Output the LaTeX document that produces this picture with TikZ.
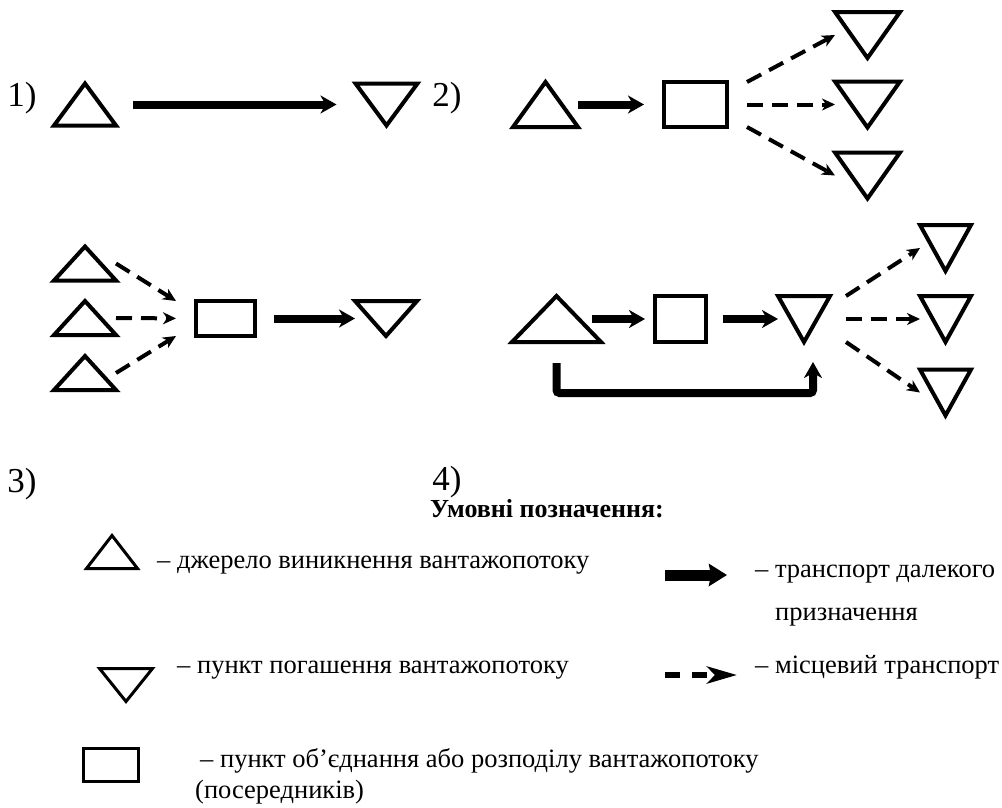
\documentclass[tikz,border=0pt]{standalone}
\usepackage{fontspec}
\setmainfont{Liberation Serif}
\usetikzlibrary{arrows.meta}

\begin{document}
\begin{tikzpicture}[x=1pt,y=-1pt,
  tri/.style={inner sep=0pt,outer sep=0pt},
  shp/.style={line width=4pt},
  box/.style={draw,line width=3.5pt,inner sep=0pt,outer sep=0pt},
  far/.style={line width=8pt,-{Stealth[length=16pt,width=18pt,inset=5pt]}},
  loc/.style={line width=4pt,dash pattern=on 16pt off 9pt,-{Stealth[length=13pt,width=12pt,inset=4pt]}},
  num/.style={font=\fontsize{35}{40}\selectfont,inner sep=0pt},
  leg/.style={font=\fontsize{26.5}{31}\selectfont,inner sep=0pt,anchor=base west}]

\useasboundingbox (0,0) rectangle (1002,807);

% 1)
\node[num] (n1) at (22,98) {1)};
\node[tri,minimum width=62pt,minimum height=42pt] (s1) at (85,104.5) {};
\node[tri,minimum width=62pt,minimum height=42pt] (d1) at (386.5,104.5) {};
\node[num] (n2) at (447,98) {2)};
\draw[far,shorten <=17pt,shorten >=19pt] (s1.east) -- (d1.west);

% 2)
\node[tri,minimum width=65pt,minimum height=45pt] (s2) at (545.5,104.5) {};
\node[box,minimum width=63pt,minimum height=45pt] (m2) at (695.5,104.5) {};
\node[tri,minimum width=65pt,minimum height=46pt] (d2a) at (867.5,35) {};
\node[tri,minimum width=65pt,minimum height=46pt] (d2b) at (867.5,104.5) {};
\node[tri,minimum width=65pt,minimum height=46pt] (d2c) at (867.5,175.5) {};
\draw[far,shorten >=20pt] (s2.east) -- (m2.west);
\draw[loc] ([xshift=20pt]m2.north east) -- (d2a.west);
\draw[loc,shorten <=20pt] (m2.east) -- (d2b.west);
\draw[loc] ([xshift=20pt]m2.south east) -- (d2c.west);

% 3)
\node[tri,minimum width=62pt,minimum height=34pt] (s3a) at (85,263.5) {};
\node[tri,minimum width=62pt,minimum height=34pt] (s3b) at (85,318) {};
\node[tri,minimum width=62pt,minimum height=34pt] (s3c) at (85,373) {};
\node[box,minimum width=59pt,minimum height=35pt] (m3) at (225.5,318.5) {};
\node[tri,minimum width=62pt,minimum height=35pt] (d3) at (386,318.5) {};
\draw[loc] (s3a.east) -- ([xshift=-20pt]m3.north west);
\draw[loc,shorten >=20pt] (s3b.east) -- (m3.west);
\draw[loc] (s3c.east) -- ([xshift=-20pt]m3.south west);
\draw[far,shorten <=19pt] (m3.east) -- (d3.west);

% 4)
\node[tri,minimum width=89pt,minimum height=46pt] (s4) at (556.5,319) {};
\node[box,minimum width=51pt,minimum height=46pt] (m4) at (680.5,319) {};
\node[tri,minimum width=52pt,minimum height=46pt] (d4) at (804,319) {};
\node[tri,minimum width=51pt,minimum height=46pt] (d4a) at (945.5,248) {};
\node[tri,minimum width=51pt,minimum height=46pt] (d4b) at (945.5,319) {};
\node[tri,minimum width=51pt,minimum height=46pt] (d4c) at (945.5,392.5) {};
\draw[far,shorten <=-9pt,shorten >=10pt] (s4.east) -- (m4.west);
\draw[far,shorten <=17pt] (m4.east) -- (d4.west);
\draw[loc] ([xshift=16pt]d4.north east) -- (d4a.west);
\draw[loc,shorten <=16pt] (d4.east) -- (d4b.west);
\draw[loc] ([xshift=16pt]d4.south east) -- (d4c.west);
\draw[far,rounded corners=3pt] ([yshift=-21pt]s4.south) -- ++(0,30) -| ([xshift=9pt,yshift=-20pt]d4.south);

% triangles
\foreach \n in {s1,s2,s3a,s3b,s3c,s4}
  \draw[shp] (\n.south west) -- (\n.north) -- (\n.south east) -- cycle;
\foreach \n in {d1,d2a,d2b,d2c,d3,d4,d4a,d4b,d4c}
  \draw[shp] (\n.north west) -- (\n.south) -- (\n.north east) -- cycle;

\node[num] (n3) at (22,484) {3)};
\node[num] (n4) at (447,482) {4)};

% legend
\node[leg,font=\fontsize{26}{30}\selectfont\bfseries] (head) at (430,517) {Умовні позначення:};

\node[tri,minimum width=51pt,minimum height=33pt] (lu) at (112,552) {};
\draw[line width=3pt] (lu.south west) -- (lu.north) -- (lu.south east) -- cycle;
\node[leg] (t1) at (157,568) {– джерело виникнення вантажопотоку};

\draw[line width=11pt,-{Stealth[length=18pt,width=22pt,inset=2pt]}] (665,575) -- (727,575);
\node[leg] (t2) at (755,577) {– транспорт далекого};
\node[leg] (t3) at (775,620) {призначення};

\node[tri,minimum width=53pt,minimum height=33pt] (ld) at (126,685) {};
\draw[line width=3pt] (ld.north west) -- (ld.south) -- (ld.north east) -- cycle;
\node[leg] (t4) at (177,673) {– пункт погашення вантажопотоку};

\draw[line width=6pt,dash pattern=on 15pt off 12pt,-{Stealth[length=30pt,width=17pt,inset=8pt]}] (665,675) -- (737,675);
\node[leg] (t5) at (755,673) {– місцевий транспорт};

\node[box,line width=3pt,minimum width=55pt,minimum height=33pt] (lr) at (111,765) {};
\node[leg] (t6) at (200,767) {– пункт об’єднання або розподілу вантажопотоку};
\node[leg] (t7) at (195,798) {(посередників)};

\end{tikzpicture}
\end{document}
